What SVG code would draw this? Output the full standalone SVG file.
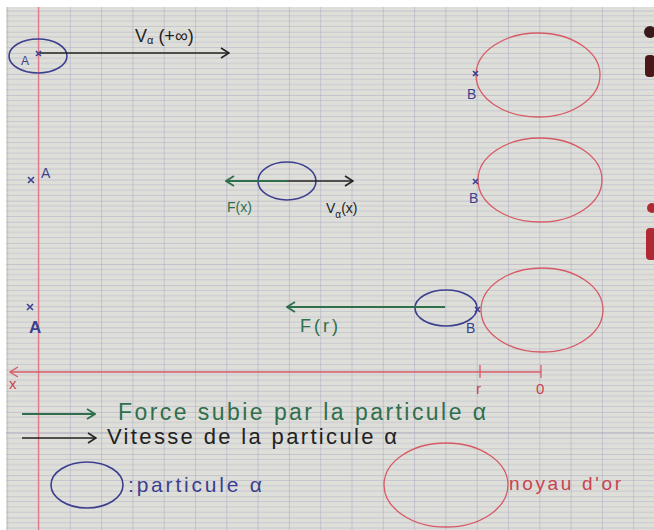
<svg xmlns="http://www.w3.org/2000/svg" width="654" height="530" viewBox="0 0 654 530">
<style>
.hand{font-family:"Liberation Sans","DejaVu Sans",sans-serif;}
.blue{stroke:#3b3f8e;fill:none;stroke-width:1.6;}
.red{stroke:#d65a66;fill:none;stroke-width:1.3;}
.grn{stroke:#2f6f4c;stroke-width:1.8;fill:none;}
.blk{stroke:#222;stroke-width:1.6;fill:none;}
.tb{fill:#3b3f8e;}
.tg{fill:#2f6f4c;}
.tk{fill:#222;}
.tr{fill:#c8434f;}
</style>
<defs>
<pattern id="grid" patternUnits="userSpaceOnUse" x="7.2" y="10.58" width="31.3" height="21.12">
<rect width="31.3" height="21.12" fill="#dfdfd9"/>
<line x1="0" y1="5.28" x2="31.3" y2="5.28" stroke="#c2c1cf" stroke-width="0.8"/>
<line x1="0" y1="10.56" x2="31.3" y2="10.56" stroke="#c2c1cf" stroke-width="0.8"/>
<line x1="0" y1="15.84" x2="31.3" y2="15.84" stroke="#c2c1cf" stroke-width="0.8"/>
<line x1="0" y1="0" x2="31.3" y2="0" stroke="#a9a7c2" stroke-width="1"/>
<line x1="0" y1="0" x2="0" y2="21.12" stroke="#a9a7c2" stroke-width="1"/>
</pattern>
<marker id="ak" viewBox="0 0 12 12" refX="11" refY="6" markerWidth="12" markerHeight="12" markerUnits="userSpaceOnUse" orient="auto">
<polyline points="3,1 11,6 3,11" fill="none" stroke="#222" stroke-width="1.6"/>
</marker>
<marker id="ag" viewBox="0 0 12 12" refX="11" refY="6" markerWidth="12" markerHeight="12" markerUnits="userSpaceOnUse" orient="auto">
<polyline points="3,1 11,6 3,11" fill="none" stroke="#2f6f4c" stroke-width="1.8"/>
</marker>
<marker id="ar" viewBox="0 0 12 12" refX="11" refY="6" markerWidth="12" markerHeight="12" markerUnits="userSpaceOnUse" orient="auto">
<polyline points="3,1 11,6 3,11" fill="none" stroke="#d65a66" stroke-width="1.4"/>
</marker>
</defs>
<rect width="654" height="530" fill="#ffffff"/>
<rect x="6" y="7" width="648" height="523" fill="url(#grid)"/>
<line x1="38.5" y1="7" x2="38.5" y2="530" stroke="#e07a88" stroke-width="1.3"/>
<!-- binder artifacts -->
<circle cx="650" cy="32" r="6" fill="#3a1a1a"/>
<rect x="645" y="55" width="10" height="22" rx="4" fill="#4a1818"/>
<circle cx="652" cy="208" r="5" fill="#b02a35"/>
<rect x="646" y="228" width="10" height="32" rx="4" fill="#b02a35"/>

<g id="nuclei">
<g id="nucleus1"><ellipse class="red" cx="538" cy="75" rx="62" ry="42"/></g>
<g id="nucleus2"><ellipse class="red" cx="540" cy="180" rx="62" ry="42"/></g>
<g id="nucleus3"><ellipse class="red" cx="542" cy="310" rx="61" ry="42"/></g>
</g>

<g id="row1">
<ellipse class="blue" cx="38" cy="56" rx="29" ry="17"/>
<text class="hand tb" x="21" y="65" font-size="12">A</text>
<path class="blue" d="M36,51 l5,5 M41,51 l-5,5" stroke-width="1.2"/>
<text class="hand tk" x="135" y="42" font-size="18">V<tspan font-size="11" dy="2">α</tspan><tspan dy="-2"> (+∞)</tspan></text>
<path class="blue" d="M473,71 l5,5 M478,71 l-5,5" stroke-width="1.2"/>
<text class="hand tb" x="467" y="99" font-size="14">B</text>
</g>

<g id="row2">
<path class="blue" d="M28,177 l6,6 M34,177 l-6,6" stroke-width="1.2"/>
<text class="hand tb" x="41" y="178" font-size="14">A</text>
<ellipse class="blue" cx="287" cy="181" rx="29" ry="19"/>
<text class="hand tg" x="227" y="212" font-size="14">F(x)</text>
<text class="hand tk" x="326" y="213" font-size="14">V<tspan font-size="10" dy="5">α</tspan><tspan dy="-5">(x)</tspan></text>
<path class="blue" d="M473,179 l5,5 M478,179 l-5,5" stroke-width="1.2"/>
<text class="hand tb" x="469" y="203" font-size="14">B</text>
</g>

<g id="row3">
<path class="blue" d="M27,304 l6,6 M33,304 l-6,6" stroke-width="1.2"/>
<text class="hand tb" x="29" y="333" font-size="17" font-weight="bold">A</text>
<ellipse class="blue" cx="446" cy="308" rx="31" ry="18"/>
<text class="hand tg" x="300" y="332" font-size="18" letter-spacing="3">F(r)</text>
<path class="blue" d="M475,307 l5,5 M480,307 l-5,5" stroke-width="1.2"/>
<text class="hand tb" x="466" y="333" font-size="14">B</text>
</g>

<g id="connectors">
<line class="blk" x1="40" y1="53" x2="229" y2="53" marker-end="url(#ak)"/>
<line class="grn" x1="287" y1="181" x2="226" y2="181" marker-end="url(#ag)"/>
<line class="blk" x1="287" y1="181" x2="353" y2="181" marker-end="url(#ak)"/>
<line class="grn" x1="445" y1="307" x2="287" y2="307" marker-end="url(#ag)"/>
</g>

<g id="axis">
<line class="red" x1="541" y1="372" x2="10" y2="372" stroke-width="1.6" marker-end="url(#ar)"/>
<line class="red" x1="480" y1="365" x2="480" y2="378" stroke-width="1.5"/>
<line class="red" x1="541" y1="365" x2="541" y2="378" stroke-width="1.5"/>
<text class="hand tr" x="9" y="389" font-size="15">x</text>
<text class="hand tr" x="476" y="394" font-size="15">r</text>
<text class="hand tr" x="536" y="394" font-size="15">0</text>
</g>

<g id="legend">
<line class="grn" x1="22" y1="414" x2="95" y2="414" marker-end="url(#ag)"/>
<text class="hand tg" x="118" y="420" font-size="23" textLength="368" lengthAdjust="spacing">Force subie par la particule α</text>
<line class="blk" x1="22" y1="438" x2="96" y2="438" marker-end="url(#ak)"/>
<text class="hand tk" x="107" y="444" font-size="22" textLength="290" lengthAdjust="spacing">Vitesse de la particule α</text>
<g id="legend-particle">
<ellipse class="blue" cx="87" cy="485" rx="36" ry="23"/>
<text class="hand tb" x="128" y="492" font-size="21" textLength="134" lengthAdjust="spacing">:particule α</text>
</g>
<g id="legend-nucleus">
<ellipse class="red" cx="446" cy="485" rx="62" ry="42"/>
<text class="hand tr" x="509" y="490" font-size="19" textLength="112" lengthAdjust="spacing">noyau d'or</text>
</g>
</g>
</svg>
